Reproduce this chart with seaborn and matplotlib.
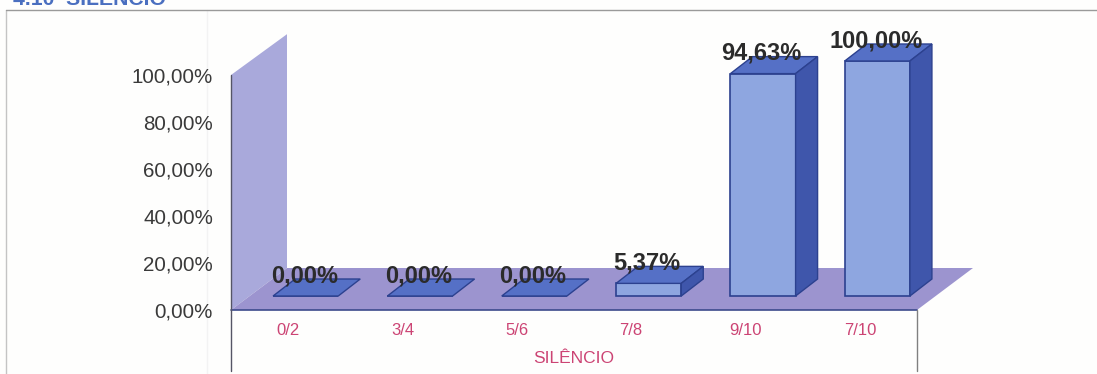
import matplotlib
matplotlib.use("Agg")
import matplotlib.pyplot as plt
from matplotlib.lines import Line2D
from matplotlib.patches import Polygon
from matplotlib.transforms import Affine2D
import seaborn as sns

# data
categorias = ["0/2", "3/4", "5/6", "7/8", "9/10", "7/10"]
valores = [0.00, 0.00, 0.00, 5.37, 94.63, 100.00]
y_ticks = [0, 20, 40, 60, 80, 100]

W, H = 1097, 374
ROSA = "#cc4474"
CINZA = "#3a3a3a"


def fmt(v):
    return f"{v:.2f}".replace(".", ",") + "%"


sns.set_style("white")
plt.rcParams["font.family"] = ["Liberation Sans", "DejaVu Sans"]

fig = plt.figure(figsize=(W / 100, H / 100), dpi=100, facecolor="#fefefd")
ax = fig.add_axes([231 / W, (H - 310) / H, 686 / W, 235 / H])
ax.patch.set_alpha(0)

sns.barplot(x=categorias, y=valores, width=0.57, color="#8ea6e0", saturation=1,
            edgecolor="#2c418f", linewidth=1.2, ax=ax)
barras = list(ax.patches)

ax.set_xlim(-0.5, 5.5)
ax.set_ylim(0, 100)

# pixels -> data units
sx = 6 / 686
sy = 100 / 235
fundo_x, fundo_y = 56 * sx, 42 * sy
prof_x, prof_y = 22 * sx, 17 * sy
frente_x, frente_y = 17.5 * sx, 14 * sy

# back wall and floor
ax.add_patch(Polygon([(-0.5, 0), (-0.5 + fundo_x, fundo_y), (-0.5 + fundo_x, 100 + fundo_y - 0.5),
                      (-0.5, 100)], fc="#a9a9db", ec="none", zorder=0.5, clip_on=False))
ax.add_patch(Polygon([(-0.5, 0), (5.5, 0), (5.5 + fundo_x, fundo_y), (-0.5 + fundo_x, fundo_y)],
                     fc="#9c94cf", ec="none", zorder=0.6, clip_on=False))

# bars moved onto the floor, with top and side faces
mover = Affine2D().translate(frente_x, frente_y) + ax.transData
for b, v in zip(barras, valores):
    b.set_transform(mover)
    b.set_clip_on(False)
    b.set_zorder(2)
    x0 = b.get_x() + frente_x
    x1 = x0 + b.get_width()
    y0 = frente_y
    y1 = v + frente_y
    ax.add_patch(Polygon([(x0, y1), (x1, y1), (x1 + prof_x, y1 + prof_y), (x0 + prof_x, y1 + prof_y)],
                         fc="#5570c6", ec="#2c418f", lw=1, zorder=2.1, clip_on=False))
    if v > 0:
        ax.add_patch(Polygon([(x1, y0), (x1 + prof_x, y0 + prof_y), (x1 + prof_x, y1 + prof_y), (x1, y1)],
                             fc="#3f56ab", ec="#2c418f", lw=1, zorder=2.1, clip_on=False))
    ax.annotate(fmt(v), xy=((x0 + x1) / 2, y1), xytext=(-1, 14.5), textcoords="offset points",
                ha="center", va="center", fontsize=17, fontweight="bold", color="#2b2b2b",
                zorder=3, annotation_clip=False)

# axis lines that run down past the floor
ax.plot([-0.5, 5.5], [0, 0], color="#3c4a8c", lw=1.2, zorder=1, clip_on=False)
ax.plot([-0.5, -0.5], [100, -26], color="#555566", lw=1, zorder=1, clip_on=False)
ax.plot([5.5, 5.5], [0, -26], color="#808080", lw=1, zorder=1, clip_on=False)

sns.despine(ax=ax, left=True, bottom=True, top=True, right=True)
ax.set_yticks(y_ticks)
ax.set_yticklabels([fmt(t) for t in y_ticks], fontsize=14.8, color=CINZA)
ax.tick_params(axis="y", length=0, pad=13)
ax.tick_params(axis="x", length=0, pad=9.5, labelsize=12, labelcolor=ROSA)
ax.set_xlabel("SILÊNCIO", fontsize=12.5, color=ROSA, labelpad=9)
ax.set_ylabel("")

# page frame, faint scan line and section heading, cut by the scan
fig.add_artist(Line2D([207 / W, 207 / W], [0, (H - 10) / H], color="#f3f3f3", lw=1, zorder=0))
fig.add_artist(Line2D([6 / W, 6 / W], [0, (H - 10) / H], color="#c4c4c4", lw=1))
fig.add_artist(Line2D([6 / W, 1], [(H - 10) / H, (H - 10) / H], color="#9a9a9a", lw=1))
fig.text(13 / W, (H - 5) / H, "4.10  SILÊNCIO", fontsize=15.2, fontweight="bold",
         color="#4a6fc0", ha="left", va="baseline")

fig.savefig("out.png", dpi=100, facecolor=fig.get_facecolor())
